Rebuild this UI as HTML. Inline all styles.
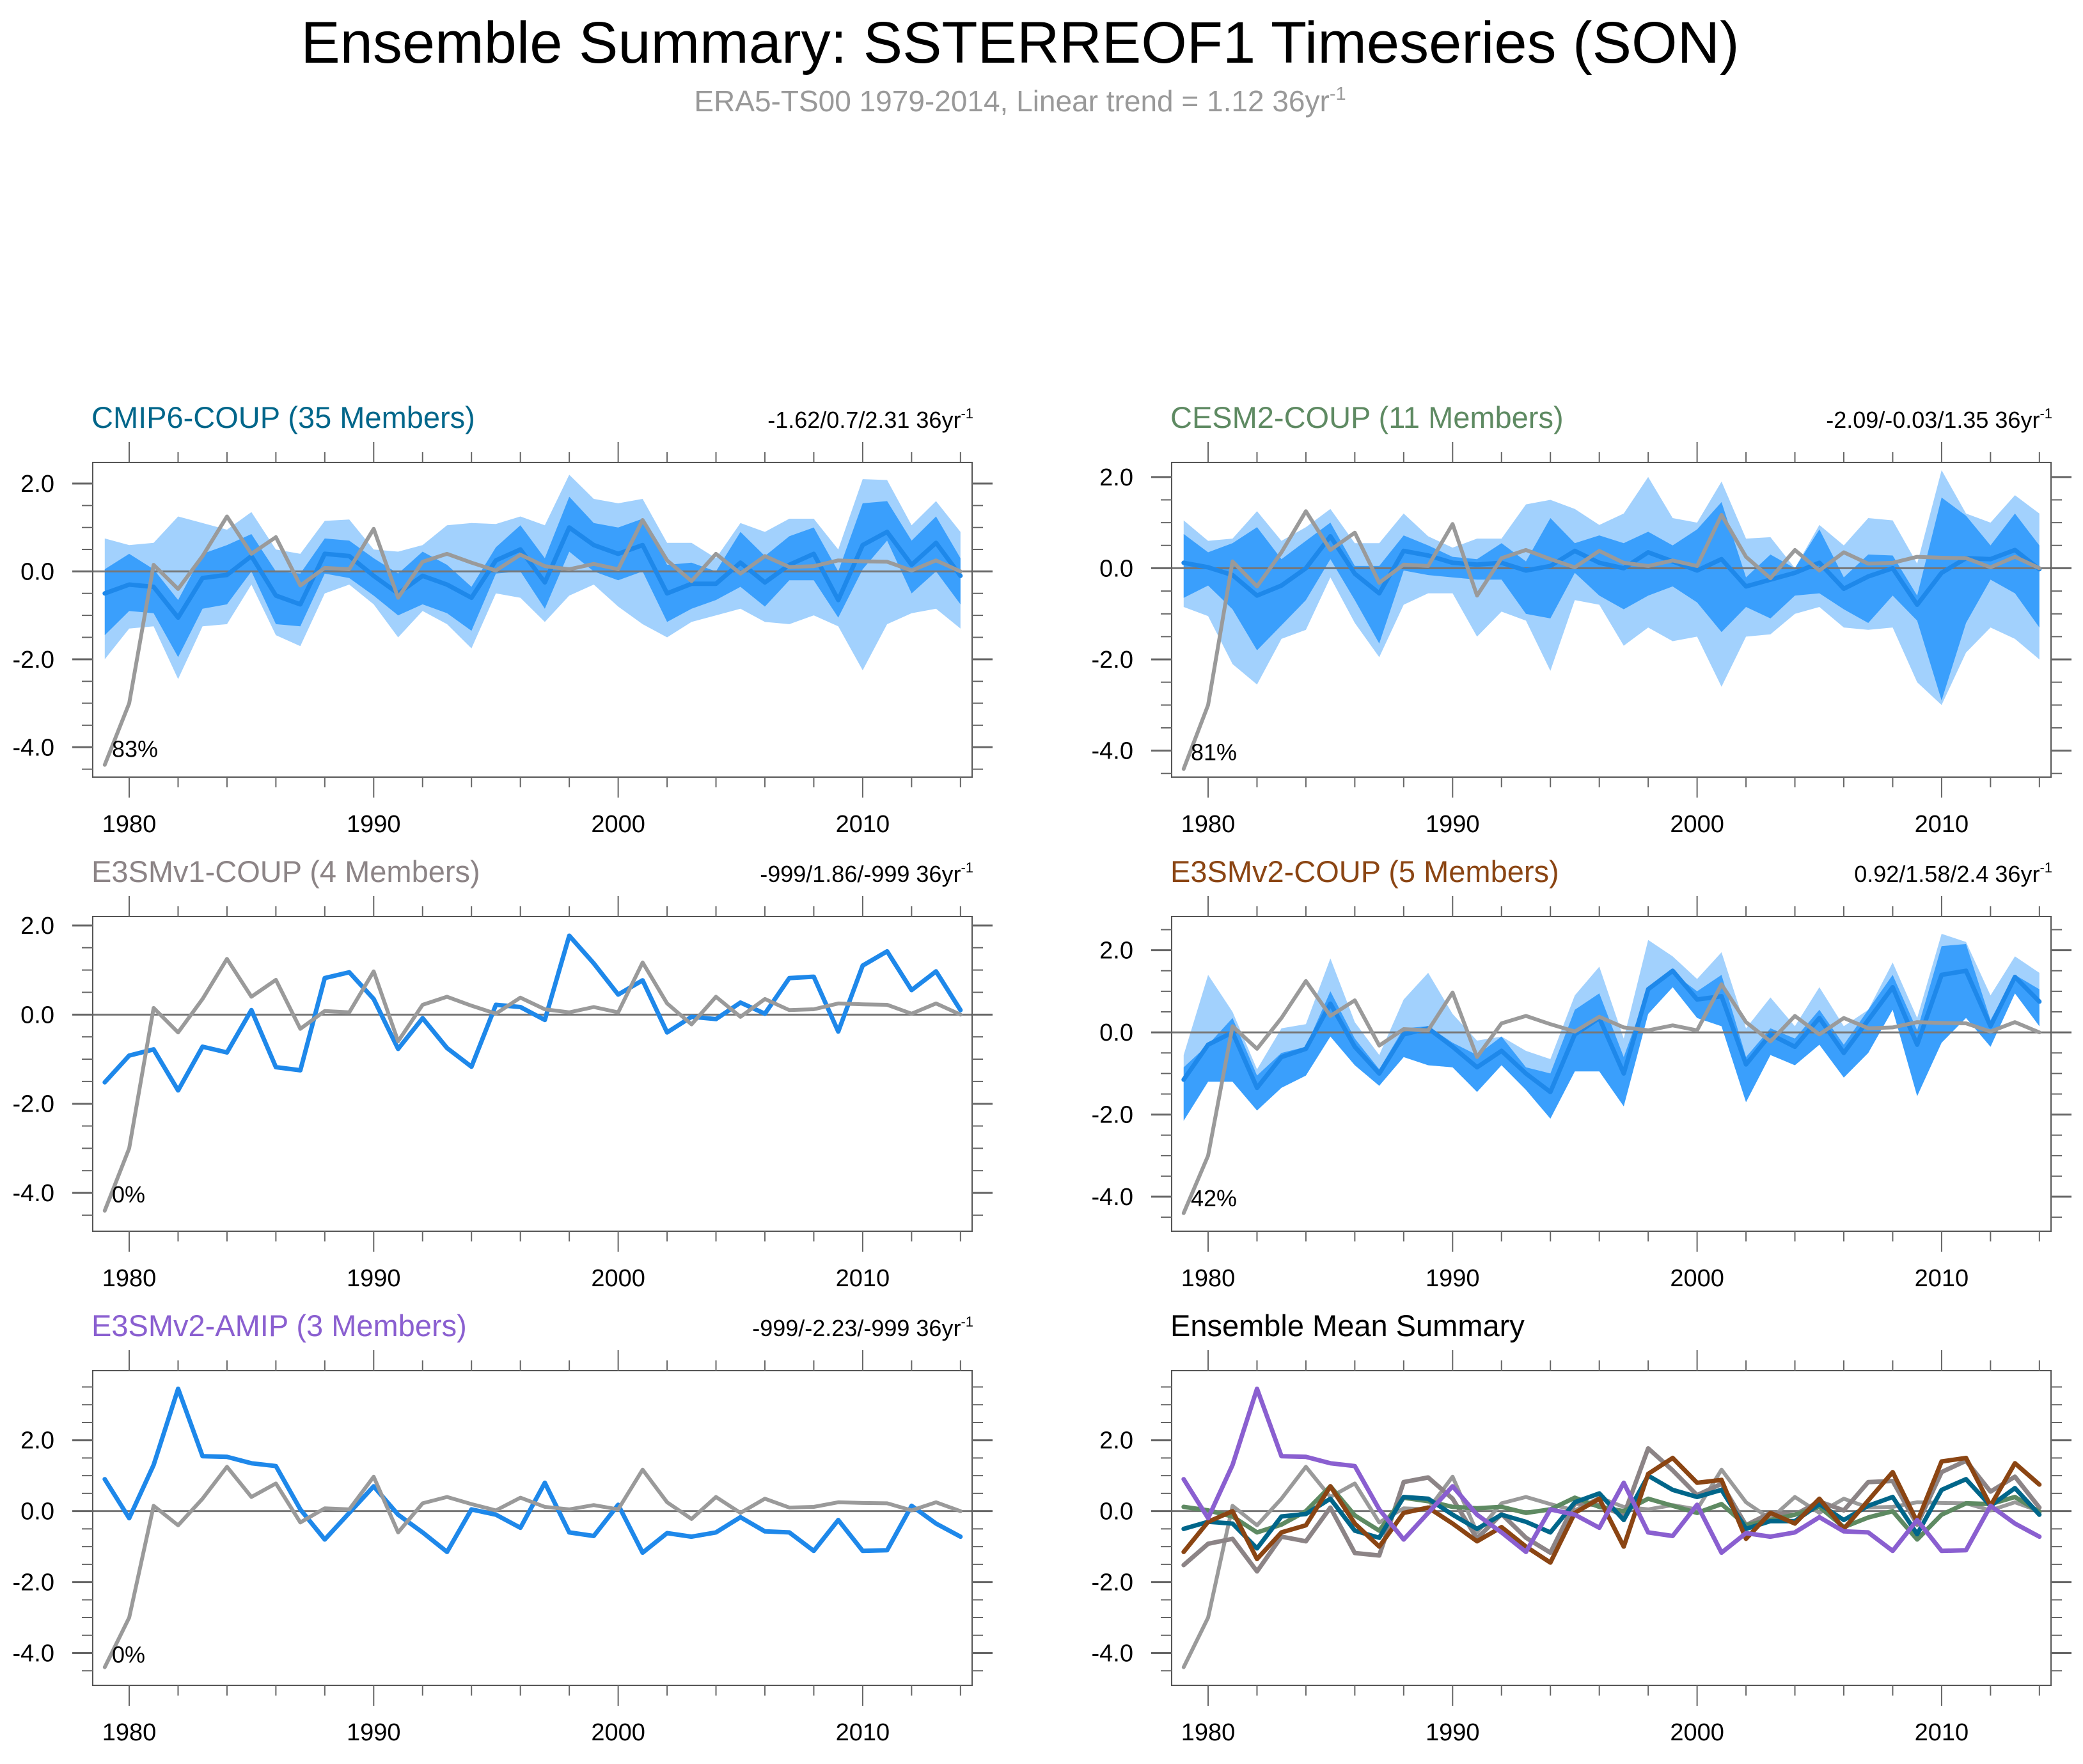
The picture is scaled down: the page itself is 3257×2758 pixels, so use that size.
<!DOCTYPE html>
<html><head><meta charset="utf-8"><style>
html,body{margin:0;padding:0;background:#fff;}
svg{display:block;font-family:"Liberation Sans",Arial,sans-serif;}
</style></head><body>
<svg id="chart" width="3257" height="2758" viewBox="0 0 3257 2758" xmlns="http://www.w3.org/2000/svg">
<text x="1595" y="98" font-size="92" text-anchor="middle" fill="#000">Ensemble Summary: SSTERREOF1 Timeseries (SON)</text>
<text x="1595" y="174" font-size="46" text-anchor="middle" fill="#999">ERA5-TS00 1979-2014, Linear trend = 1.12 36yr<tspan font-size="29" dy="-18">-1</tspan></text>
</svg>
<script>
const years = []; for (let y = 1979; y <= 2014; y++) years.push(y);
const obs = [-4.4,-3.0,0.15,-0.4,0.35,1.25,0.4,0.78,-0.32,0.08,0.05,0.97,-0.6,0.22,0.4,0.2,0.02,0.38,0.12,0.05,0.17,0.05,1.17,0.25,-0.22,0.4,-0.05,0.35,0.1,0.12,0.25,0.23,0.22,0.02,0.25,0.0];

const cmipMean = [-0.5,-0.3,-0.35,-1.05,-0.15,-0.08,0.35,-0.55,-0.75,0.4,0.35,-0.1,-0.5,-0.1,-0.3,-0.6,0.25,0.5,-0.25,1.0,0.6,0.4,0.6,-0.5,-0.28,-0.28,0.2,-0.25,0.15,0.4,-0.65,0.6,0.9,0.15,0.65,-0.1];
const cmipDarkHi = [0.05,0.4,0.05,-0.65,0.4,0.6,0.85,0,-0.05,0.75,0.7,0.3,-0.05,0.45,0.15,-0.35,0.55,1.05,0.3,1.7,1.1,1.0,1.2,0.15,0.2,0,0.9,0.35,0.8,1.0,0,1.55,1.6,0.7,1.25,0.3];
const cmipDarkLo = [-1.45,-0.9,-0.95,-1.95,-0.85,-0.75,0,-1.2,-1.25,-0.05,-0.15,-0.55,-1.0,-0.75,-0.95,-1.35,-0.05,0,-0.85,0.45,0,-0.2,0,-1.15,-0.85,-0.65,-0.35,-0.8,-0.2,-0.2,-1.05,0.05,0.7,-0.5,0,-0.75];
const cmipLightHi = [0.75,0.6,0.65,1.25,1.1,0.95,1.35,0.5,0.4,1.15,1.18,0.5,0.45,0.6,1.05,1.1,1.08,1.25,1.05,2.2,1.65,1.55,1.65,0.65,0.65,0.3,1.1,0.9,1.2,1.2,0.5,2.1,2.08,1.05,1.6,0.9];
const cmipLightLo = [-2.0,-1.3,-1.25,-2.45,-1.25,-1.2,-0.3,-1.45,-1.7,-0.5,-0.3,-0.75,-1.5,-0.9,-1.2,-1.75,-0.5,-0.6,-1.15,-0.55,-0.3,-0.8,-1.2,-1.5,-1.15,-1.0,-0.85,-1.15,-1.2,-1.0,-1.25,-2.25,-1.2,-0.95,-0.85,-1.3];

const cesmMean = [0.12,0.02,-0.15,-0.6,-0.38,0.0,0.7,-0.12,-0.55,0.38,0.28,0.12,0.08,0.12,-0.05,0.05,0.38,0.12,0.0,0.35,0.15,-0.05,0.2,-0.4,-0.25,-0.1,0.12,-0.45,-0.18,0.0,-0.8,-0.1,0.22,0.2,0.4,-0.02];
const cesmDarkHi = [0.75,0.35,0.55,0.9,0.2,0.6,1.0,0.05,0.05,0.72,0.5,0.25,0.2,0.55,0.15,1.1,0.55,0.72,0.55,0.8,0.5,0.85,1.45,-0.2,0.3,0,0.85,-0.2,0.3,0.28,-0.6,1.55,1.15,0.5,1.2,0.5];
const cesmDarkLo = [-0.65,-0.38,-0.9,-1.8,-1.25,-0.7,0.2,-0.7,-1.65,-0.05,-0.15,-0.2,-0.25,-0.25,-1.0,-1.1,-0.1,-0.6,-0.9,-0.6,-0.4,-0.75,-1.4,-0.85,-1.1,-0.6,-0.55,-0.9,-1.2,-0.6,-1.15,-2.9,-1.2,-0.25,-0.55,-1.3];
const cesmLightHi = [1.05,0.6,0.65,1.25,0.6,0.9,1.3,0.55,0.55,1.2,0.7,0.45,0.65,0.65,1.4,1.5,1.3,0.95,1.2,2.0,1.1,1.0,1.9,0.65,0.68,0.0,0.95,0.5,1.1,1.05,0.1,2.15,1.2,1.0,1.6,1.2];
const cesmLightLo = [-0.85,-1.05,-2.1,-2.55,-1.55,-1.35,-0.2,-1.2,-1.95,-0.8,-0.55,-0.55,-1.5,-0.95,-1.15,-2.25,-0.7,-0.8,-1.7,-1.3,-1.6,-1.5,-2.6,-1.5,-1.45,-1.0,-0.85,-1.3,-1.35,-1.3,-2.5,-3.0,-1.85,-1.3,-1.55,-2.0];

const e3v1Mean = [-1.52,-0.92,-0.78,-1.7,-0.72,-0.85,0.1,-1.18,-1.25,0.82,0.95,0.35,-0.77,-0.08,-0.75,-1.17,0.22,0.17,-0.12,1.77,1.15,0.45,0.77,-0.4,-0.05,-0.1,0.27,0.02,0.82,0.85,-0.38,1.1,1.42,0.55,0.97,0.1];

const e3v2Mean = [-1.15,-0.3,0.0,-1.35,-0.6,-0.4,0.7,-0.35,-1.0,-0.05,0.1,-0.35,-0.85,-0.45,-1.0,-1.45,-0.05,0.35,-1.0,1.05,1.5,0.8,0.88,-0.78,-0.05,-0.35,0.35,-0.5,0.3,1.1,-0.3,1.4,1.5,0.15,1.35,0.75];
const e3v2DarkHi = [-0.85,-0.3,0.35,-1.05,-0.5,-0.35,1.0,-0.15,-0.9,0.1,0.15,-0.25,-0.55,-0.1,-0.85,-1.0,0.55,0.95,-0.6,1.05,1.45,1.0,1.4,-0.6,0.1,-0.15,0.55,-0.3,0.55,1.4,0.05,2.1,2.15,0.3,1.4,1.05];
const e3v2DarkLo = [-2.15,-1.2,-1.2,-1.9,-1.35,-1.05,-0.1,-0.8,-1.3,-0.6,-0.8,-0.85,-1.45,-0.8,-1.4,-2.1,-0.95,-0.95,-1.8,0.45,1.1,0.35,0.15,-1.7,-0.55,-0.8,-0.3,-1.1,-0.5,0.55,-1.55,-0.25,0.35,-0.35,0.95,0.15];
const e3v2LightHi = [-0.55,1.4,0.5,-0.9,0.1,0.2,1.8,0.25,-0.55,0.8,1.45,0.45,-0.2,-0.1,-0.45,-0.65,0.9,1.6,-0.15,2.25,1.85,1.3,1.95,0.1,0.85,0.15,1.1,0.15,0.55,1.7,0.35,2.4,2.2,0.9,1.85,1.45];
const e3v2LightLo = [-2.15,-1.2,-1.2,-1.9,-1.35,-1.05,-0.1,-0.8,-1.3,-0.6,-0.8,-0.85,-1.45,-0.8,-1.4,-2.1,-0.95,-0.95,-1.8,0.45,1.1,0.35,0.15,-1.7,-0.55,-0.8,-0.3,-1.1,-0.5,0.55,-1.55,-0.25,0.35,-0.35,0.95,0.15];

const amipMean = [0.9,-0.2,1.3,3.45,1.55,1.53,1.35,1.27,0.05,-0.8,-0.05,0.7,-0.1,-0.6,-1.15,0.05,-0.1,-0.47,0.8,-0.6,-0.7,0.18,-1.17,-0.62,-0.72,-0.6,-0.17,-0.57,-0.6,-1.12,-0.25,-1.12,-1.1,0.15,-0.35,-0.72];

const yTicks = [-4, -2, 0, 2];
const yTickLabels = ["-4.0", "-2.0", "0.0", "2.0"];
const xMajor = [1980, 1990, 2000, 2010];

const NS = "http://www.w3.org/2000/svg";
const svg = document.getElementById("chart");
function mk(tag, attrs, parent) {
  const e = document.createElementNS(NS, tag);
  for (const k in attrs) e.setAttribute(k, attrs[k]);
  (parent || svg).appendChild(e);
  return e;
}

const panels = [
  {key:"cmip6", x0:145, x1:1520, y0:723, y1:1215, ymin:-4.68, ymax:2.48, title:"CMIP6-COUP (35 Members)", tcol:"#00668a", trend:"-1.62/0.7/2.31 36yr", pct:"83%", mean:cmipMean, dHi:cmipDarkHi, dLo:cmipDarkLo, lHi:cmipLightHi, lLo:cmipLightLo},
  {key:"cesm2", x0:1832, x1:3207, y0:723, y1:1215, ymin:-4.58, ymax:2.32, title:"CESM2-COUP (11 Members)", tcol:"#5e8a62", trend:"-2.09/-0.03/1.35 36yr", pct:"81%", mean:cesmMean, dHi:cesmDarkHi, dLo:cesmDarkLo, lHi:cesmLightHi, lLo:cesmLightLo},
  {key:"e3smv1", x0:145, x1:1520, y0:1433, y1:1925, ymin:-4.86, ymax:2.2, title:"E3SMv1-COUP (4 Members)", tcol:"#8c8486", trend:"-999/1.86/-999 36yr", pct:"0%", mean:e3v1Mean},
  {key:"e3smv2", x0:1832, x1:3207, y0:1433, y1:1925, ymin:-4.84, ymax:2.82, title:"E3SMv2-COUP (5 Members)", tcol:"#8b4513", trend:"0.92/1.58/2.4 36yr", pct:"42%", mean:e3v2Mean, dHi:e3v2DarkHi, dLo:e3v2DarkLo, lHi:e3v2LightHi, lLo:e3v2LightLo},
  {key:"amip", x0:145, x1:1520, y0:2143, y1:2635, ymin:-4.91, ymax:3.96, title:"E3SMv2-AMIP (3 Members)", tcol:"#8a5fd0", trend:"-999/-2.23/-999 36yr", pct:"0%", mean:amipMean},
  {key:"summary", x0:1832, x1:3207, y0:2143, y1:2635, ymin:-4.91, ymax:3.96, title:"Ensemble Mean Summary", tcol:"#000", summary:true}
];

panels.forEach(p => {
  const g = mk("g", {});
  
  
  const xs = yr => (p.x0 + 57) + (yr - 1980) * 38.23;
  const ys = v => p.y0 + (p.ymax - v) / (p.ymax - p.ymin) * (p.y1 - p.y0);
  const clip = "clip-" + p.key;
  const cp = mk("clipPath", {id: clip}, g);
  mk("rect", {x:p.x0, y:p.y0, width:p.x1-p.x0, height:p.y1-p.y0}, cp);
  const inner = mk("g", {"clip-path":"url(#"+clip+")"}, g);

  const t = mk("text", {x:p.x0-2, y:p.y0-54, "font-size":47, fill:p.tcol}, g);
  t.textContent = p.title;
  
  
  if (p.trend) {
    const tr = mk("text", {x:p.x1+2, y:p.y0-54, "font-size":36, fill:"#000", "text-anchor":"end"}, g);
    tr.textContent = p.trend;
    const sup = mk("tspan", {"font-size":22, dy:-15}, tr);
    sup.textContent = "-1";
    
    
  }

  const band = (hi, lo, col, name) => {
    let d = "";
    hi.forEach((v,i) => { d += (i?"L":"M") + xs(years[i]).toFixed(1) + " " + ys(v).toFixed(1); });
    for (let i = lo.length-1; i >= 0; i--) d += "L" + xs(years[i]).toFixed(1) + " " + ys(lo[i]).toFixed(1);
    const e = mk("path", {d:d+"Z", fill:col, stroke:"none"}, inner);
    
    
  };
  const line = (vals, col, w, name) => {
    let d = "";
    vals.forEach((v,i) => { d += (i?"L":"M") + xs(years[i]).toFixed(1) + " " + ys(v).toFixed(1); });
    const e = mk("path", {d:d, fill:"none", stroke:col, "stroke-width":w, "stroke-linejoin":"round", "stroke-linecap":"round"}, inner);
    
    
  };

  if (p.lHi) band(p.lHi, p.lLo, "#a2d1fd", "spread-band-outer");
  if (p.dHi) band(p.dHi, p.dLo, "#3a9ffc", "spread-band-inner");
  const zl = mk("line", {x1:p.x0, x2:p.x1, y1:ys(0), y2:ys(0), stroke:"#777", "stroke-width":3}, inner);
  
  

  if (p.summary) {
    line(obs, "#9a9a9a", 6, "obs-line");
    line(e3v1Mean, "#8c8486", 7, "e3smv1-mean-line");
    line(cesmMean, "#5e8a62", 7, "cesm2-mean-line");
    line(cmipMean, "#00668a", 7, "cmip6-mean-line");
    line(e3v2Mean, "#8b4513", 7, "e3smv2-mean-line");
    line(amipMean, "#8a5fd0", 7, "amip-mean-line");
  } else {
    line(p.mean, "#1e88ea", 7, "ensemble-mean-line");
    line(obs, "#9a9a9a", 6, "obs-line");
    const pt = mk("text", {x:p.x0+30, y:ys(-4.0)+15, "font-size":36, fill:"#000"}, g);
    pt.textContent = p.pct;
    
    
  }

  const fr = mk("rect", {x:p.x0, y:p.y0, width:p.x1-p.x0, height:p.y1-p.y0, fill:"none", stroke:"#555", "stroke-width":2}, g);
  
  

  for (let v = -5; v <= 4.01; v += 0.5) {
    if (v < p.ymin || v > p.ymax) continue;
    const yy = ys(v);
    const major = Math.abs(v - Math.round(v/2)*2) < 1e-6;
    const len = major ? 32 : 17;
    mk("line", {x1:p.x0-len, x2:p.x0, y1:yy, y2:yy, stroke:"#666", "stroke-width":major?3:2}, g);
    mk("line", {x1:p.x1, x2:p.x1+len, y1:yy, y2:yy, stroke:"#666", "stroke-width":major?3:2}, g);
  }
  yTicks.forEach((v,i) => {
    if (v < p.ymin || v > p.ymax) return;
    const tl = mk("text", {x:p.x0-60, y:ys(v)+13, "font-size":38, "text-anchor":"end", fill:"#000"}, g);
    tl.textContent = yTickLabels[i];
    
    
  });
  for (let yr = 1980; yr <= 2014; yr += 2) {
    const xx = xs(yr);
    const major = yr % 10 === 0;
    const len = major ? 32 : 16;
    mk("line", {x1:xx, x2:xx, y1:p.y0-len, y2:p.y0, stroke:"#666", "stroke-width":2}, g);
    mk("line", {x1:xx, x2:xx, y1:p.y1, y2:p.y1+len, stroke:"#666", "stroke-width":2}, g);
  }
  xMajor.forEach(yr => {
    const tl = mk("text", {x:xs(yr), y:p.y1+86, "font-size":38, "text-anchor":"middle", fill:"#000"}, g);
    tl.textContent = String(yr);
    
    
  });
});
</script>
</body></html>
